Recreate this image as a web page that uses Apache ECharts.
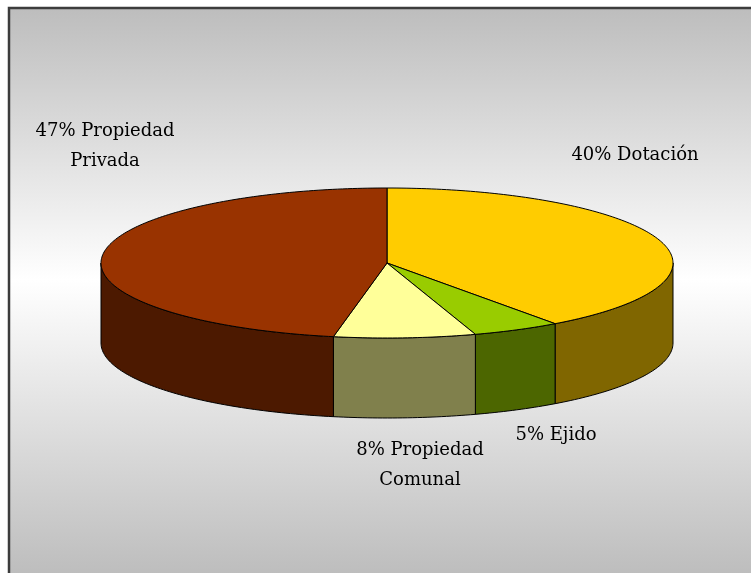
<!DOCTYPE html>
<html>
<head>
<meta charset="utf-8">
<script src="https://cdn.jsdelivr.net/npm/echarts@6/dist/echarts.min.js"></script>
<style>html,body{margin:0;padding:0;background:#fff}#c{width:751px;height:573px}</style>
</head>
<body>
<div id="c"></div>
<script>
// ---- data ----
const categories = ['Dotación', 'Ejido', 'Propiedad\nComunal', 'Propiedad\nPrivada'];
const values = [40, 5, 8, 47];

// ---- styles / layout (not data) ----
const topColors = ['#FFCC00', '#99CC00', '#FFFF99', '#993300'];
const sideColors = ['#806600', '#4C6600', '#80804C', '#4C1900'];
const labelAnchor = [[635, 155], [556, 435], [420, 465], [105, 146]];
const PIE = { cx: 387, cy: 263, rx: 286, ry: 75, depth: 80 };

const total = values.reduce((a, b) => a + b, 0);

function pt(theta, dy) {
  return [PIE.cx + PIE.rx * Math.sin(theta), PIE.cy - PIE.ry * Math.cos(theta) + dy];
}
function arc(a, b, dy) {
  const pts = [];
  const n = Math.max(2, Math.ceil(Math.abs(b - a) / (Math.PI / 180)));
  for (let k = 0; k <= n; k++) pts.push(pt(a + (b - a) * k / n, dy));
  return pts;
}

function renderItem(params, api) {
  const i = params.dataIndex;
  let before = 0;
  for (let j = 0; j < i; j++) before += values[j];
  const v = api.value(0);
  const a0 = before / total * Math.PI * 2;
  const a1 = (before + v) / total * Math.PI * 2;
  const children = [];
  // side wall: visible from bearing 90deg to 270deg
  const s = Math.max(a0, Math.PI / 2), e = Math.min(a1, Math.PI * 1.5);
  if (e > s) {
    const pts = arc(s, e, 0).concat(arc(e, s, PIE.depth));
    children.push({
      type: 'polygon', z2: 1,
      shape: { points: pts },
      style: { fill: sideColors[i], stroke: '#000', lineWidth: 1 }
    });
  }
  // top face
  const topPts = [[PIE.cx, PIE.cy]].concat(arc(a0, a1, 0));
  children.push({
    type: 'polygon', z2: 10,
    shape: { points: topPts },
    style: { fill: topColors[i], stroke: '#000', lineWidth: 1 }
  });
  // label
  children.push({
    type: 'text', z2: 20,
    style: {
      text: v + '% ' + categories[i],
      x: labelAnchor[i][0], y: labelAnchor[i][1],
      align: 'center', verticalAlign: 'middle',
      font: '18px "DejaVu Serif"', fill: '#000', lineHeight: 30
    }
  });
  return { type: 'group', children: children };
}

const chart = echarts.init(document.getElementById('c'), null, { renderer: 'canvas' });
chart.setOption({
  animation: false,
  backgroundColor: '#ffffff',
  graphic: [{
    type: 'rect', z: -10, silent: true,
    shape: { x: 9, y: 8, width: 800, height: 600 },
    style: {
      fill: new echarts.graphic.LinearGradient(0, 8, 0, 575, [
        { offset: 0, color: '#bdbdbd' },
        { offset: 0.48, color: '#ffffff' },
        { offset: 1, color: '#bdbdbd' }
      ], true),
      stroke: '#3c3c3c', lineWidth: 2.5
    }
  }],
  series: [{
    type: 'custom',
    coordinateSystem: 'none',
    renderItem: renderItem,
    data: values.map((v, i) => ({ name: categories[i], value: [v] }))
  }]
});
</script>
</body>
</html>
